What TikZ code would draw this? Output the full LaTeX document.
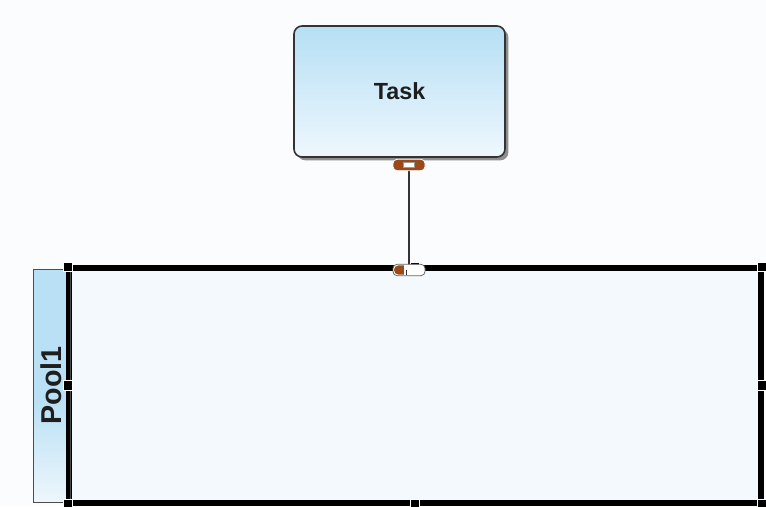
\documentclass[tikz,border=0pt]{standalone}
\usepackage{fontspec}
\setmainfont{Liberation Sans}
\usetikzlibrary{shadows}
\definecolor{bg}{HTML}{FBFCFD}
\definecolor{taskTop}{HTML}{B6DFF5}
\definecolor{taskBot}{HTML}{EEF7FD}
\definecolor{poolFill}{HTML}{F3F9FD}
\definecolor{laneTop}{HTML}{B9E0F5}
\definecolor{laneBot}{HTML}{EDF6FC}
\definecolor{hbrown}{HTML}{9A4A1A}
\definecolor{txt}{HTML}{1E1E1E}
\tikzset{
  taskbox/.style={draw=black!80, line width=1.2pt, rounded corners=6pt,
    top color=taskTop, bottom color=taskBot, minimum width=211*0.75pt, minimum height=131*0.75pt,
    drop shadow={shadow xshift=2.5pt, shadow yshift=-2.5pt, fill=black!55, opacity=0.8},
    font=\bfseries\fontsize{17.5}{20}\selectfont, text=txt, inner sep=0pt},
  poolbox/.style={draw=black, line width=3.2pt, fill=poolFill, minimum width=690*0.75pt, minimum height=233*0.75pt, inner sep=0pt},
  lanebox/.style={draw=black!70, line width=0.6pt, minimum width=37*0.75pt, minimum height=233*0.75pt, inner sep=0pt},
  handle/.style={draw=white, line width=0.9pt, fill=black, minimum size=7pt, inner sep=0pt},
  conn/.style={draw=black!80, line width=1pt},
  chandle/.style={draw=white, line width=0.6pt, fill=hbrown, rounded corners=3pt, minimum width=24pt, minimum height=8.5pt, inner sep=0pt},
  cinner/.style={fill=white, draw=black!40, line width=0.3pt, minimum width=8pt, minimum height=4pt, inner sep=0pt}
}
\begin{document}
\begin{tikzpicture}[x=0.75pt,y=-0.75pt]
\useasboundingbox[fill=bg] (0,0) rectangle (766,506);
% task
\node[taskbox] (task) at (399.5,91.5) {Task};
% pool
\node[poolbox] (pool) at (415,385.5) {};
\shade[top color=laneTop, bottom color=laneTop] (33,269) rectangle (70,400);
\shade[top color=laneTop, bottom color=laneBot] (33,400) rectangle (70,502);
\node[lanebox] (lane) at (51.5,385.5) {};
\node[rotate=90, font=\bfseries\fontsize{21.5}{24}\selectfont, text=txt] (lanelabel) at (lane.center) {Pool1};
\draw[black, line width=3.2pt] (pool.north west) rectangle (pool.south east);
% handles on pool
\foreach \a [count=\i] in {north west,north,north east,west,east,south west,south,south east}
  \node[handle] (h\i) at (pool.\a) {};
% connector
\coordinate (cs) at (409,165);
\coordinate (ce) at (409,270);
\draw[conn] (cs) -- (ce);
\node[chandle] (ch1) at (cs) {};
\node[cinner] (ci1) at (ch1.center) {};
\node[chandle, fill=white, draw=black!60] (ch2) at (ce) {};
\fill[hbrown] (ch2.west) ++(1pt,0) arc[start angle=180, end angle=90, radius=3.5pt] -- ++(4pt,0) -- ++(0,-7pt) -- ++(-4pt,0) arc[start angle=270, end angle=180, radius=3.5pt];
\draw[conn] (ch2.center) ++(-2pt,0) -- ++(0,-4pt);
\end{tikzpicture}
\end{document}
